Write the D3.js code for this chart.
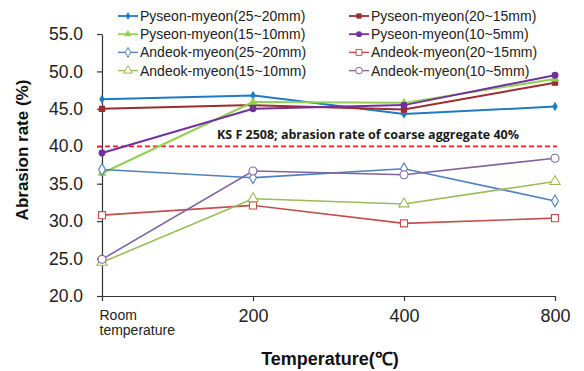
<!DOCTYPE html>
<html>
<head>
<meta charset="utf-8">
<script src="https://cdn.jsdelivr.net/npm/d3@7"></script>
<style>
  body { margin: 0; background: #fff; }
  svg { display: block; font-family: "Liberation Sans", Arial, sans-serif; }
</style>
</head>
<body>
<svg width="584" height="371"></svg>
<script>
// data
const categories = ['Room temperature', '200', '400', '800'];
const seriesNames = [
  'Pyseon-myeon(25~20mm)', 'Pyseon-myeon(20~15mm)', 'Pyseon-myeon(15~10mm)', 'Pyseon-myeon(10~5mm)',
  'Andeok-myeon(25~20mm)', 'Andeok-myeon(20~15mm)', 'Andeok-myeon(15~10mm)', 'Andeok-myeon(10~5mm)'
];
const pyseon25_20 = [46.3, 46.8, 44.3, 45.3];
const pyseon20_15 = [45.0, 45.5, 44.9, 48.5];
const pyseon15_10 = [36.4, 45.9, 45.8, 49.0];
const pyseon10_5 = [39.1, 45.0, 45.5, 49.5];
const andeok25_20 = [36.9, 35.8, 37.0, 32.7];
const andeok20_15 = [30.8, 32.1, 29.7, 30.4];
const andeok15_10 = [24.5, 33.0, 32.3, 35.3];
const andeok10_5 = [24.9, 36.7, 36.2, 38.4];
const yTicks = [20, 25, 30, 35, 40, 45, 50, 55];
const standardValue = 40;
const standardLabel = 'KS F 2508; abrasion rate of coarse aggregate 40%';

const seriesValues = [pyseon25_20, pyseon20_15, pyseon15_10, pyseon10_5,
  andeok25_20, andeok20_15, andeok15_10, andeok10_5];

// look of each series: colour, marker, filled or open
const styles = [
  { color: '#1f7bc1', symbol: d3.symbolDiamond, size: 26, filled: true },
  { color: '#9b2d30', symbol: d3.symbolSquare, size: 40, filled: true },
  { color: '#92d050', symbol: d3.symbolTriangle, size: 34, filled: true },
  { color: '#7030a0', symbol: d3.symbolCircle, size: 38, filled: true },
  { color: '#4f81bd', symbol: d3.symbolDiamond, size: 40, filled: false },
  { color: '#c0504d', symbol: d3.symbolSquare, size: 50, filled: false },
  { color: '#9bbb59', symbol: d3.symbolTriangle, size: 46, filled: false },
  { color: '#8064a2', symbol: d3.symbolCircle, size: 50, filled: false }
];

const svg = d3.select('svg');

const x = d3.scalePoint()
  .domain(categories)
  .range([102, 555]);

const y = d3.scaleLinear()
  .domain([20, 55])
  .range([296, 34]);

// y axis
const yAxis = svg.append('g')
  .attr('transform', `translate(${x.range()[0]},0)`)
  .call(d3.axisLeft(y).tickValues(yTicks).tickFormat(d3.format('.1f')).tickSize(5).tickPadding(14).tickSizeOuter(0));
yAxis.selectAll('text').attr('font-size', 17.5).attr('fill', '#222');

// x axis
const xAxis = svg.append('g')
  .attr('transform', `translate(0,${y(20)})`)
  .call(d3.axisBottom(x).tickSize(5).tickPadding(8).tickSizeOuter(0));
xAxis.selectAll('text').attr('font-size', 18).attr('fill', '#222');
// two line label for room temperature
xAxis.selectAll('.tick text')
  .filter(d => d === categories[0])
  .text(null)
  .attr('text-anchor', 'start')
  .attr('font-size', 14)
  .attr('x', -3)
  .attr('dy', 0)
  .attr('y', 0)
  .selectAll('tspan')
  .data(['Room', 'temperature'])
  .join('tspan')
    .attr('x', -3)
    .attr('y', (d, i) => 24 + i * 15)
    .text(d => d);

svg.selectAll('.domain, .tick line').attr('stroke', '#333').attr('stroke-width', 1.2);

// standard line at 40%
svg.append('line')
  .attr('x1', 97).attr('x2', 557)
  .attr('y1', y(standardValue)).attr('y2', y(standardValue))
  .attr('stroke', '#e8202a')
  .attr('stroke-width', 1.8)
  .attr('stroke-dasharray', '5,3');

svg.append('text')
  .attr('x', 217)
  .attr('y', y(standardValue) - 7)
  .attr('font-family', '"Open Sans", sans-serif')
  .attr('font-weight', 'bold')
  .attr('font-size', 13)
  .attr('textLength', 302)
  .attr('lengthAdjust', 'spacingAndGlyphs')
  .attr('fill', '#1a1a1a')
  .text(standardLabel);

// lines and markers
const line = d3.line()
  .x((d, i) => x(categories[i]))
  .y(d => y(d));

const seriesG = svg.append('g');
seriesValues.forEach((vals, s) => {
  const st = styles[s];
  seriesG.append('path')
    .attr('d', line(vals))
    .attr('fill', 'none')
    .attr('stroke', st.color)
    .attr('stroke-width', st.filled ? 2 : 1.6);
  seriesG.selectAll(null)
    .data(vals)
    .join('path')
      .attr('transform', (d, i) => `translate(${x(categories[i])},${y(d)})`)
      .attr('d', d3.symbol().type(st.symbol).size(st.size))
      .attr('fill', st.filled ? st.color : '#fff')
      .attr('stroke', st.color)
      .attr('stroke-width', st.filled ? 0 : 1.1);
});

// legend, two columns
const legend = svg.append('g');
seriesNames.forEach((name, s) => {
  const st = styles[s];
  const col = s % 2;
  const row = Math.floor(s / 2);
  const lx = col === 0 ? 118 : 349;
  const ly = 16 + row * 18.2;
  const item = legend.append('g').attr('transform', `translate(${lx},${ly})`);
  item.append('line')
    .attr('x1', 0).attr('x2', 20)
    .attr('stroke', st.color)
    .attr('stroke-width', st.filled ? 1.8 : 1.4);
  item.append('path')
    .attr('transform', 'translate(10,0)')
    .attr('d', d3.symbol().type(st.symbol).size(st.size * 0.7))
    .attr('fill', st.filled ? st.color : '#fff')
    .attr('stroke', st.color)
    .attr('stroke-width', st.filled ? 0 : 1);
  item.append('text')
    .attr('x', 22)
    .attr('dy', '0.36em')
    .attr('font-size', 14)
    .attr('fill', '#222')
    .text(name);
});

// axis titles
svg.append('text')
  .attr('transform', 'translate(28,150) rotate(-90)')
  .attr('text-anchor', 'middle')
  .attr('font-weight', 'bold')
  .attr('font-size', 17)
  .attr('fill', '#111')
  .text('Abrasion rate (%)');

svg.append('text')
  .attr('x', 330)
  .attr('y', 365)
  .attr('text-anchor', 'middle')
  .attr('font-weight', 'bold')
  .attr('font-size', 18)
  .attr('fill', '#111')
  .text('Temperature(℃)');
</script>
</body>
</html>
